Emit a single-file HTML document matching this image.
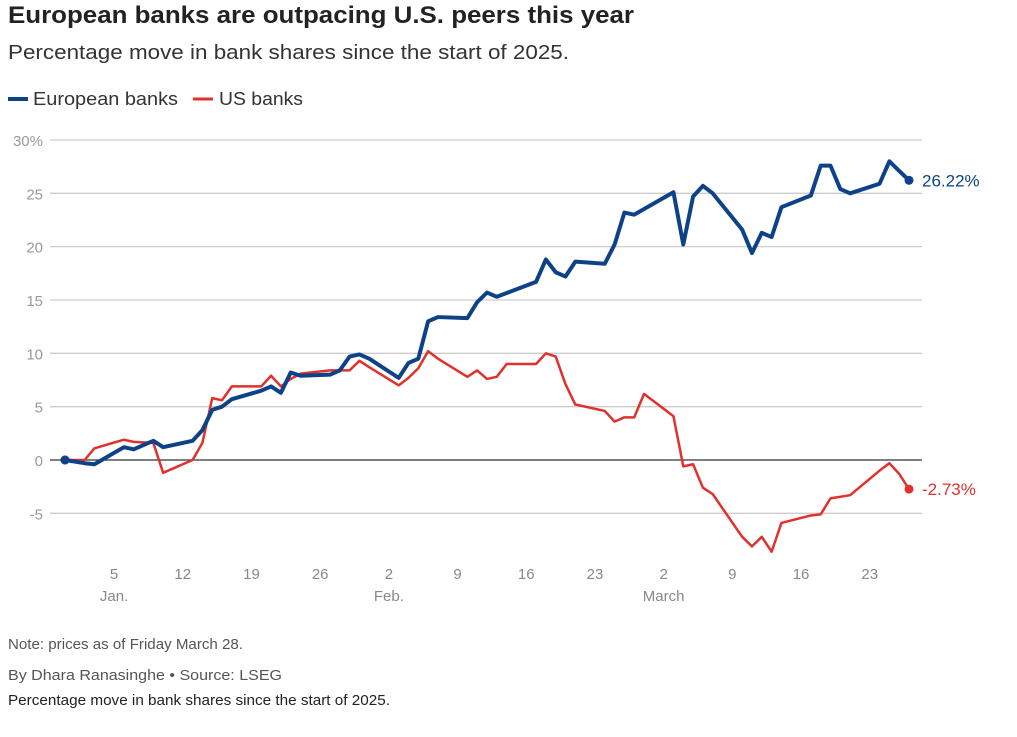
<!DOCTYPE html>
<html><head><meta charset="utf-8">
<style>
body{margin:0;background:#fff;width:1017px;height:737px;overflow:hidden;font-family:"Liberation Sans",sans-serif}
svg{position:absolute;left:0;top:0}
</style></head>
<body>
<svg width="1017" height="737">
<text x="8" y="23" font-size="24" font-weight="bold" fill="#222" textLength="626" lengthAdjust="spacingAndGlyphs">European banks are outpacing U.S. peers this year</text>
<text x="8" y="59" font-size="20" fill="#333" textLength="561" lengthAdjust="spacingAndGlyphs">Percentage move in bank shares since the start of 2025.</text>
<g>
<g><line x1="8" y1="99" x2="28" y2="99" stroke="#0d4289" stroke-width="4"/><text x="33" y="105" font-size="18" fill="#333" textLength="145" lengthAdjust="spacingAndGlyphs">European banks</text></g>
<g><line x1="193" y1="99" x2="213" y2="99" stroke="#e0312d" stroke-width="3"/><text x="219" y="105" font-size="18" fill="#333" textLength="84" lengthAdjust="spacingAndGlyphs">US banks</text></g>
</g>
<g id="grid"></g>
<g id="yaxis"></g>
<g id="xaxis"></g>
<g id="plot"></g>
<text x="8" y="649" font-size="15" fill="#555" textLength="235" lengthAdjust="spacingAndGlyphs">Note: prices as of Friday March 28.</text>
<text x="8" y="680" font-size="15" fill="#555" textLength="274" lengthAdjust="spacingAndGlyphs">By Dhara Ranasinghe  • Source: LSEG</text>
<text x="8" y="705" font-size="15" fill="#222" textLength="382" lengthAdjust="spacingAndGlyphs">Percentage move in bank shares since the start of 2025.</text>
</svg>
<script>
const yTicks=[-5,0,5,10,15,20,25,30];
const yTickLabels=["-5","0","5","10","15","20","25","30%"];
const xTickDays=[5,12,19,26,33,40,47,54,61,68,75,82];
const xTickLabels=["5","12","19","26","2","9","16","23","2","9","16","23"];
const monthDays=[5,33,61];
const monthLabels=["Jan.","Feb.","March"];
const euDays=[0,2,3,6,7,9,10,13,14,15,16,17,20,21,22,23,24,27,28,29,30,31,34,35,36,37,38,41,42,43,44,48,49,50,51,52,55,56,57,58,62,63,64,65,66,69,70,71,72,73,76,77,78,79,80,83,84,85,86];
const euVals=[0,-0.3,-0.4,1.2,1.0,1.8,1.2,1.8,2.8,4.7,5.0,5.7,6.5,6.9,6.3,8.2,7.9,8.0,8.4,9.7,9.9,9.5,7.7,9.1,9.5,13.0,13.4,13.3,14.8,15.7,15.3,16.7,18.8,17.6,17.2,18.6,18.4,20.2,23.2,23.0,25.1,20.2,24.7,25.7,25.0,21.6,19.4,21.3,20.9,23.7,24.8,27.6,27.6,25.4,25.0,25.9,28.0,27.1,26.22];
const usDays=[0,2,3,6,7,9,10,13,14,15,16,17,20,21,22,23,24,27,28,29,30,31,34,35,36,37,38,41,42,43,44,45,48,49,50,51,52,55,56,57,58,59,62,63,64,65,66,69,70,71,72,73,76,77,78,80,83,84,85,86];
const usVals=[0,0,1.1,1.9,1.7,1.6,-1.2,0,1.6,5.8,5.6,6.9,6.9,7.9,6.9,7.6,8.1,8.4,8.4,8.4,9.3,8.7,7.0,7.7,8.6,10.2,9.5,7.8,8.4,7.6,7.8,9.0,9.0,10.0,9.7,7.1,5.2,4.6,3.6,4.0,4.0,6.2,4.1,-0.6,-0.4,-2.6,-3.2,-7.2,-8.1,-7.2,-8.6,-5.9,-5.2,-5.1,-3.6,-3.3,-1.0,-0.3,-1.3,-2.73];
const NS="http://www.w3.org/2000/svg";
const xS=d=>65+d*9.814;
const yS=v=>460-v*10.667;
function mk(tag,attrs,parent){const e=document.createElementNS(NS,tag);for(const k in attrs)e.setAttribute(k,attrs[k]);parent.appendChild(e);return e;}
const grid=document.getElementById('grid'),ya=document.getElementById('yaxis'),xa=document.getElementById('xaxis'),plot=document.getElementById('plot');
yTicks.forEach((v,i)=>{
  const l=mk('line',{x1:50,x2:922,y1:yS(v),y2:yS(v),stroke:v===0?'#333':'#ccc','stroke-width':1.3},grid);
  
  
  const t=mk('text',{x:43,y:yS(v)+6,'text-anchor':'end','font-size':15,fill:'#999'},ya);
  t.textContent=yTickLabels[i];
  
  
});
xTickDays.forEach((d,i)=>{
  const t=mk('text',{x:xS(d),y:579,'text-anchor':'middle','font-size':15,fill:'#888'},xa);
  t.textContent=xTickLabels[i];
  
  
});
monthDays.forEach((d,i)=>{
  const t=mk('text',{x:xS(d),y:601,'text-anchor':'middle','font-size':15,fill:'#888'},xa);
  t.textContent=monthLabels[i];
  
  
});
function series(days,vals,color,w,name,lbl){
  const p=mk('polyline',{points:days.map((d,i)=>xS(d)+','+yS(vals[i])).join(' '),fill:'none',stroke:color,'stroke-width':w,'stroke-linejoin':'round'},plot);
  
  
  const n=days.length-1;
  const s=mk('circle',{cx:xS(days[0]),cy:yS(vals[0]),r:4.5,fill:color},plot);
  
  
  const e=mk('circle',{cx:xS(days[n]),cy:yS(vals[n]),r:4.5,fill:color},plot);
  
  
  const t=mk('text',{x:xS(days[n])+13,y:yS(vals[n])+6,'font-size':17,fill:color},plot);
  t.textContent=lbl;
  
  
}
series(usDays,usVals,'#e0312d',2.5,'us-banks',usVals[usVals.length-1].toFixed(2)+'%');
series(euDays,euVals,'#0d4289',4,'european-banks',euVals[euVals.length-1].toFixed(2)+'%');
</script>
</body></html>
